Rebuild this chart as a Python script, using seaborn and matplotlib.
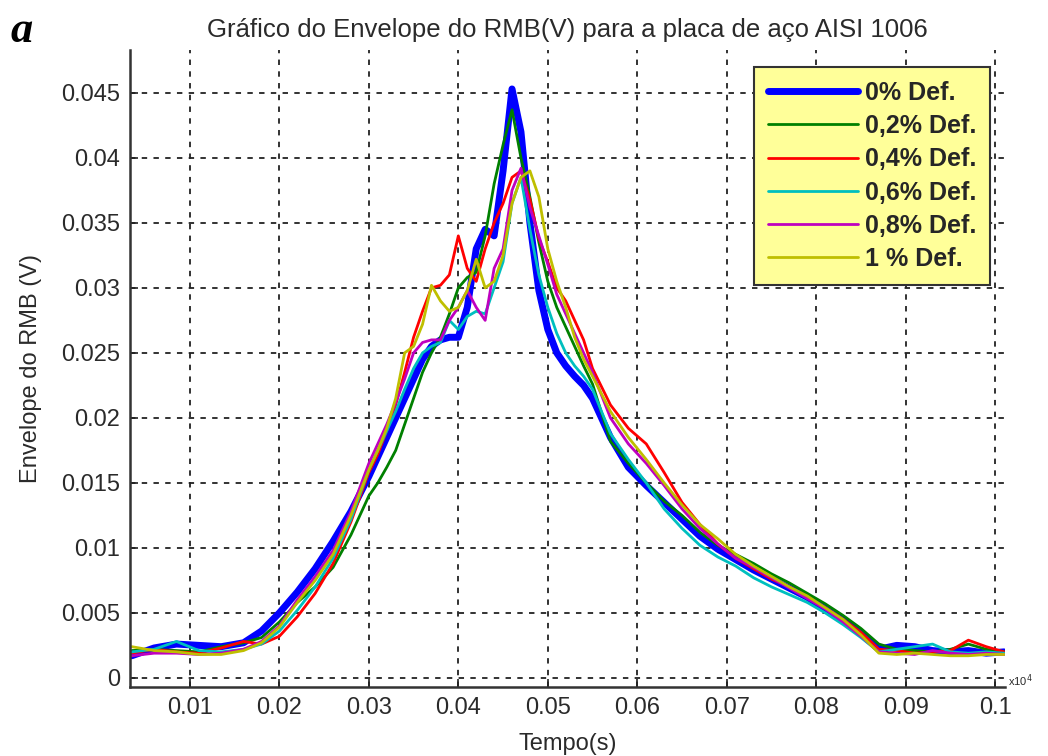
import numpy as np
import pandas as pd
import matplotlib
matplotlib.use("Agg")
import matplotlib.pyplot as plt
import seaborn as sns

# Time axis (s, in units of 1e4 as labelled on the axis)
tempo = [0.0035, 0.006, 0.0085, 0.011, 0.0135, 0.016, 0.018, 0.020, 0.022, 0.024, 0.026, 0.028, 0.030,
         0.031, 0.032, 0.033, 0.034, 0.035, 0.036, 0.037, 0.038, 0.039, 0.040, 0.041, 0.042, 0.043,
         0.044, 0.045, 0.046, 0.047, 0.048, 0.049, 0.050, 0.051, 0.052, 0.053, 0.054, 0.055,
         0.057, 0.059, 0.061, 0.063, 0.065, 0.067, 0.069, 0.071, 0.073, 0.075, 0.077, 0.079,
         0.081, 0.083, 0.085, 0.087, 0.089, 0.091, 0.093, 0.095, 0.097, 0.099, 0.101]

# RMB envelope (V) for each deformation level
def_0 = [0.0017, 0.0023, 0.0026, 0.0025, 0.0024, 0.0027, 0.0036, 0.0050, 0.0066, 0.0084, 0.0105, 0.0128, 0.0155,
         0.0170, 0.0185, 0.0200, 0.0215, 0.0230, 0.0245, 0.0255, 0.0260, 0.0262, 0.0262, 0.0285, 0.0330, 0.0345,
         0.0340, 0.0390, 0.0453, 0.0420, 0.0350, 0.0298, 0.0268, 0.0250, 0.0240, 0.0232, 0.0225, 0.0215,
         0.0185, 0.0162, 0.0148, 0.0135, 0.0122, 0.0109, 0.0099, 0.0091, 0.0083, 0.0076, 0.0069, 0.0062,
         0.0053, 0.0044, 0.0034, 0.0022, 0.0025, 0.0024, 0.0021, 0.0020, 0.0021, 0.0019, 0.0020]
def_02 = [0.0021, 0.0022, 0.0021, 0.0020, 0.0024, 0.0027, 0.0031, 0.0043, 0.0058, 0.0070, 0.0085, 0.0110, 0.0140,
          0.0150, 0.0162, 0.0175, 0.0195, 0.0215, 0.0235, 0.0250, 0.0262, 0.0280, 0.0300, 0.0308, 0.0312, 0.0340,
          0.0380, 0.0410, 0.0437, 0.0400, 0.0370, 0.0335, 0.0305, 0.0285, 0.0270, 0.0255, 0.0240, 0.0226,
          0.0182, 0.0165, 0.0150, 0.0136, 0.0125, 0.0112, 0.0102, 0.0095, 0.0088, 0.0080, 0.0073, 0.0065,
          0.0057, 0.0048, 0.0038, 0.0026, 0.0022, 0.0021, 0.0020, 0.0022, 0.0026, 0.0022, 0.0020]
def_04 = [0.0019, 0.0022, 0.0020, 0.0019, 0.0023, 0.0028, 0.0026, 0.0032, 0.0047, 0.0065, 0.0088, 0.0120, 0.0158,
          0.0172, 0.0190, 0.0210, 0.0235, 0.0262, 0.0282, 0.0300, 0.0302, 0.0310, 0.0340, 0.0315, 0.0305, 0.0330,
          0.0350, 0.0365, 0.0385, 0.0390, 0.0368, 0.0338, 0.0320, 0.0300, 0.0290, 0.0275, 0.0260, 0.0238,
          0.0210, 0.0192, 0.0180, 0.0158, 0.0135, 0.0118, 0.0103, 0.0092, 0.0084, 0.0076, 0.0070, 0.0062,
          0.0054, 0.0045, 0.0035, 0.0022, 0.0021, 0.0019, 0.0020, 0.0021, 0.0029, 0.0024, 0.0020]
def_06 = [0.0020, 0.0022, 0.0028, 0.0021, 0.0020, 0.0022, 0.0026, 0.0036, 0.0052, 0.0070, 0.0092, 0.0122, 0.0160,
          0.0175, 0.0190, 0.0205, 0.0222, 0.0238, 0.0250, 0.0255, 0.0258, 0.0275, 0.0268, 0.0278, 0.0282, 0.0280,
          0.0300, 0.0320, 0.0365, 0.0385, 0.0345, 0.0310, 0.0285, 0.0265, 0.0250, 0.0240, 0.0232, 0.0222,
          0.0188, 0.0168, 0.0150, 0.0130, 0.0115, 0.0102, 0.0093, 0.0086, 0.0077, 0.0070, 0.0064, 0.0058,
          0.0050, 0.0041, 0.0031, 0.0020, 0.0022, 0.0024, 0.0026, 0.0020, 0.0019, 0.0020, 0.0019]
def_08 = [0.0017, 0.0019, 0.0019, 0.0018, 0.0019, 0.0022, 0.0028, 0.0040, 0.0060, 0.0078, 0.0098, 0.0128, 0.0165,
          0.0180, 0.0195, 0.0212, 0.0230, 0.0250, 0.0258, 0.0260, 0.0260, 0.0275, 0.0285, 0.0298, 0.0285, 0.0275,
          0.0315, 0.0330, 0.0375, 0.0392, 0.0362, 0.0340, 0.0318, 0.0295, 0.0280, 0.0265, 0.0250, 0.0235,
          0.0200, 0.0180, 0.0165, 0.0148, 0.0130, 0.0115, 0.0103, 0.0092, 0.0085, 0.0077, 0.0069, 0.0061,
          0.0053, 0.0043, 0.0032, 0.0020, 0.0019, 0.0018, 0.0021, 0.0019, 0.0018, 0.0019, 0.0018]
def_1 = [0.0024, 0.0021, 0.0020, 0.0018, 0.0018, 0.0021, 0.0027, 0.0039, 0.0058, 0.0075, 0.0095, 0.0125, 0.0160,
         0.0175, 0.0192, 0.0215, 0.0250, 0.0255, 0.0272, 0.0302, 0.0290, 0.0282, 0.0285, 0.0298, 0.0322, 0.0300,
         0.0305, 0.0325, 0.0365, 0.0385, 0.0390, 0.0370, 0.0330, 0.0305, 0.0285, 0.0262, 0.0245, 0.0232,
         0.0205, 0.0185, 0.0168, 0.0150, 0.0133, 0.0118, 0.0107, 0.0095, 0.0086, 0.0078, 0.0070, 0.0063,
         0.0054, 0.0045, 0.0033, 0.0019, 0.0018, 0.0019, 0.0018, 0.0017, 0.0017, 0.0018, 0.0018]

labels = ["0% Def.", "0,2% Def.", "0,4% Def.", "0,6% Def.", "0,8% Def.", "1 % Def."]
series = [def_0, def_02, def_04, def_06, def_08, def_1]
colors = ["#0000FF", "#008000", "#FF0000", "#00BFBF", "#BF00BF", "#BFBF00"]
widths = [5.0, 2.0, 2.0, 2.0, 2.0, 2.0]

x_ticks = [0.01, 0.02, 0.03, 0.04, 0.05, 0.06, 0.07, 0.08, 0.09, 0.1]
x_ticklabels = ["0.01", "0.02", "0.03", "0.04", "0.05", "0.06", "0.07", "0.08", "0.09", "0.1"]
y_ticks = [0, 0.005, 0.01, 0.015, 0.02, 0.025, 0.03, 0.035, 0.04, 0.045]
y_ticklabels = ["0", "0.005", "0.01", "0.015", "0.02", "0.025", "0.03", "0.035", "0.04", "0.045"]

df = pd.concat(
    [pd.DataFrame({"Tempo": tempo, "Envelope": s, "Def": lab}) for s, lab in zip(series, labels)],
    ignore_index=True,
)

sns.set_style("ticks")
plt.rcParams["font.family"] = ["Liberation Sans", "DejaVu Sans"]

fig = plt.figure(figsize=(10.48, 7.56), dpi=100)
ax = fig.add_axes([0.124, 0.0913, 0.835, 0.8426])

for lab, col, lw in zip(labels, colors, widths):
    sns.lineplot(data=df[df["Def"] == lab], x="Tempo", y="Envelope", color=col,
                 linewidth=lw, label=lab, ax=ax, sort=False)

ax.set_xlim(0.0033, 0.1011)
ax.set_ylim(-0.0007, 0.0483)
ax.set_xticks(x_ticks)
ax.set_xticklabels(x_ticklabels)
ax.set_yticks(y_ticks)
ax.set_yticklabels(y_ticklabels)

ax.grid(True, color="#222222", linestyle=(0, (3, 3.5)), linewidth=1.3)
ax.tick_params(direction="in", length=6, width=1.2, labelsize=17, colors="#222222",
               labelcolor="#2a2a2a", pad=7)
for side in ("top", "right"):
    ax.spines[side].set_visible(False)
for side in ("left", "bottom"):
    ax.spines[side].set_color("#333333")
    ax.spines[side].set_linewidth(1.8)

ax.set_xlabel("Tempo(s)", fontsize=17, color="#2a2a2a", labelpad=10)
ax.set_ylabel("Envelope do RMB (V)", fontsize=17, color="#2a2a2a", labelpad=14)
ax.set_title("Gráfico do Envelope do RMB(V) para a placa de aço AISI 1006",
             fontsize=18.5, color="#2a2a2a", pad=9)

leg = ax.legend(loc="upper right", bbox_to_anchor=(0.983, 0.973), frameon=True, fancybox=False,
                facecolor="#FFFF99", edgecolor="#333333", framealpha=1.0,
                prop={"family": "Liberation Sans", "weight": "bold", "size": 18},
                handlelength=3.6, handletextpad=0.28, labelspacing=0.37,
                borderpad=0.55, borderaxespad=0.0)
leg.get_frame().set_linewidth(1.5)

fig.text(0.010, 0.945, "a", fontsize=32, style="italic", weight="bold",
         family=["Liberation Serif", "DejaVu Serif"], color="black")
fig.text(0.962, 0.093, r"x10$^{4}$", fontsize=8, color="#2a2a2a")

fig.savefig("out.png", dpi=100)
